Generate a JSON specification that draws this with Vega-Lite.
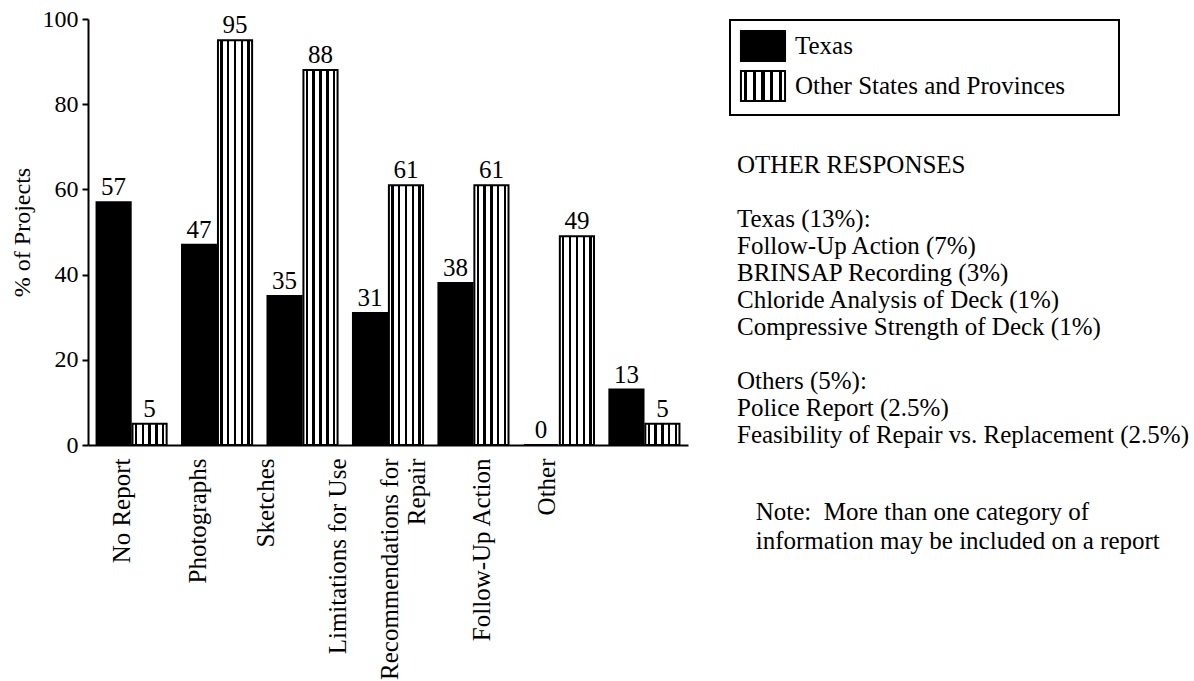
{
  "$schema": "https://vega.github.io/schema/vega-lite/v6.json",
  "autosize": "none",
  "width": 600,
  "height": 426,
  "padding": {"left": 88, "top": 19, "right": 506, "bottom": 236},
  "background": "white",
  "config": {
    "font": "Liberation Serif",
    "view": {"stroke": null},
    "legend": {"strokeColor": "black", "strokeWidth": 2}
  },
  "title": {
    "text": ["OTHER RESPONSES", "\u200b\u00a0", "Texas (13%):", "Follow-Up Action (7%)", "BRINSAP Recording (3%)", "Chloride Analysis of Deck (1%)", "Compressive Strength of Deck (1%)", "\u200b\u00a0", "Others (5%):", "Police Report (2.5%)", "Feasibility of Repair vs. Replacement (2.5%)"],
    "subtitle": ["\u200b\u00a0\u00a0\u00a0Note:\u00a0 More than one category of", "\u200b\u00a0\u00a0\u00a0information may be included on a report"],
    "orient": "top",
    "anchor": "start",
    "frame": "group",
    "align": "left",
    "dx": 649,
    "dy": 551,
    "font": "Liberation Serif",
    "fontSize": 25,
    "fontWeight": "normal",
    "color": "black",
    "lineHeight": 27,
    "subtitleFont": "Liberation Serif",
    "subtitleFontSize": 25,
    "subtitleColor": "black",
    "subtitleLineHeight": 29,
    "subtitlePadding": 52
  },
  "data": {
    "values": [
      {"category": "No Report", "series": "Texas", "pct": 57},
      {"category": "No Report", "series": "Other States and Provinces", "pct": 5},
      {"category": "Photographs", "series": "Texas", "pct": 47},
      {"category": "Photographs", "series": "Other States and Provinces", "pct": 95},
      {"category": "Sketches", "series": "Texas", "pct": 35},
      {"category": "Sketches", "series": "Other States and Provinces", "pct": 88},
      {"category": "Limitations for Use", "series": "Texas", "pct": 31},
      {"category": "Limitations for Use", "series": "Other States and Provinces", "pct": 61},
      {"category": "Recommendations for Repair", "series": "Texas", "pct": 38},
      {"category": "Recommendations for Repair", "series": "Other States and Provinces", "pct": 61},
      {"category": "Follow-Up Action", "series": "Texas", "pct": 0},
      {"category": "Follow-Up Action", "series": "Other States and Provinces", "pct": 49},
      {"category": "Other", "series": "Texas", "pct": 13},
      {"category": "Other", "series": "Other States and Provinces", "pct": 5}
    ]
  },
  "encoding": {
    "x": {
      "field": "category",
      "type": "nominal",
      "sort": null,
      "scale": {"paddingInner": 0.18, "paddingOuter": 0.1},
      "axis": {
        "title": null,
        "ticks": false,
        "domainColor": "black",
        "domainWidth": 2,
        "labelAngle": 270,
        "labelFont": "Liberation Serif",
        "labelFontSize": 25,
        "labelColor": "black",
        "labelPadding": 13,
        "labelLimit": 400,
        "labelLineHeight": 27,
        "labelExpr": "datum.value == 'Recommendations for Repair' ? ['Recommendations for', 'Repair'] : datum.label",
        "labelOffset": {
          "condition": [
            {"test": "datum.value == 'No Report'", "value": -10},
            {"test": "datum.value == 'Photographs'", "value": -19},
            {"test": "datum.value == 'Sketches'", "value": -37},
            {"test": "datum.value == 'Limitations for Use'", "value": -50},
            {"test": "datum.value == 'Recommendations for Repair'", "value": -83},
            {"test": "datum.value == 'Follow-Up Action'", "value": -77},
            {"test": "datum.value == 'Other'", "value": -97}
          ],
          "value": 0
        }
      }
    },
    "xOffset": {
      "field": "series",
      "type": "nominal",
      "scale": {"domain": ["Texas", "Other States and Provinces"], "paddingInner": 0.05}
    },
    "y": {
      "field": "pct",
      "type": "quantitative",
      "scale": {"domain": [0, 100]},
      "axis": {
        "title": "% of Projects",
        "values": [0, 20, 40, 60, 80, 100],
        "grid": false,
        "domainColor": "black",
        "domainWidth": 2,
        "tickColor": "black",
        "tickWidth": 2,
        "tickSize": 6,
        "labelFont": "Liberation Serif",
        "labelFontSize": 24,
        "labelColor": "black",
        "labelPadding": 4,
        "titleFont": "Liberation Serif",
        "titleFontSize": 24,
        "titleFontWeight": "normal",
        "titleColor": "black",
        "titlePadding": 8
      }
    }
  },
  "layer": [
    {
      "mark": {"type": "bar", "stroke": "black", "strokeWidth": 2},
      "encoding": {
        "color": {
          "field": "series",
          "type": "nominal",
          "scale": {
            "domain": ["Texas", "Other States and Provinces"],
            "range": [
              "black",
              {"expr": "{gradient: 'linear', x1: 0, y1: 0, x2: 1, y2: 0, stops: [{offset: 0, color: 'white'}, {offset: 0.065, color: 'white'}, {offset: 0.065, color: 'black'}, {offset: 0.135, color: 'black'}, {offset: 0.135, color: 'white'}, {offset: 0.265, color: 'white'}, {offset: 0.265, color: 'black'}, {offset: 0.335, color: 'black'}, {offset: 0.335, color: 'white'}, {offset: 0.465, color: 'white'}, {offset: 0.465, color: 'black'}, {offset: 0.535, color: 'black'}, {offset: 0.535, color: 'white'}, {offset: 0.665, color: 'white'}, {offset: 0.665, color: 'black'}, {offset: 0.735, color: 'black'}, {offset: 0.735, color: 'white'}, {offset: 0.865, color: 'white'}, {offset: 0.865, color: 'black'}, {offset: 0.935, color: 'black'}, {offset: 0.935, color: 'white'}, {offset: 1, color: 'white'}]}"}
            ]
          },
          "legend": {
            "title": null,
            "orient": "none",
            "direction": "vertical",
            "legendX": 642,
            "legendY": 1,
            "padding": 10,
            "rowPadding": 2,
            "symbolType": "M-1.47,-1H1.47V1H-1.47Z",
            "symbolSize": 900,
            "symbolOffset": 7,
            "symbolStrokeColor": "black",
            "symbolStrokeWidth": 2,
            "symbolOpacity": 1,
            "labelFont": "Liberation Serif",
            "labelFontSize": 25,
            "labelColor": "black",
            "labelOffset": 16,
            "labelLimit": 500,
            "labelExpr": "datum.label == 'Other States and Provinces' ? datum.label + '\u00a0\u00a0\u00a0\u00a0\u00a0\u00a0\u00a0\u200b' : datum.label"
          }
        }
      }
    },
    {
      "mark": {"type": "text", "baseline": "bottom", "dy": -2, "fontSize": 25, "font": "Liberation Serif", "color": "black"},
      "encoding": {"text": {"field": "pct", "type": "quantitative"}}
    }
  ]
}
